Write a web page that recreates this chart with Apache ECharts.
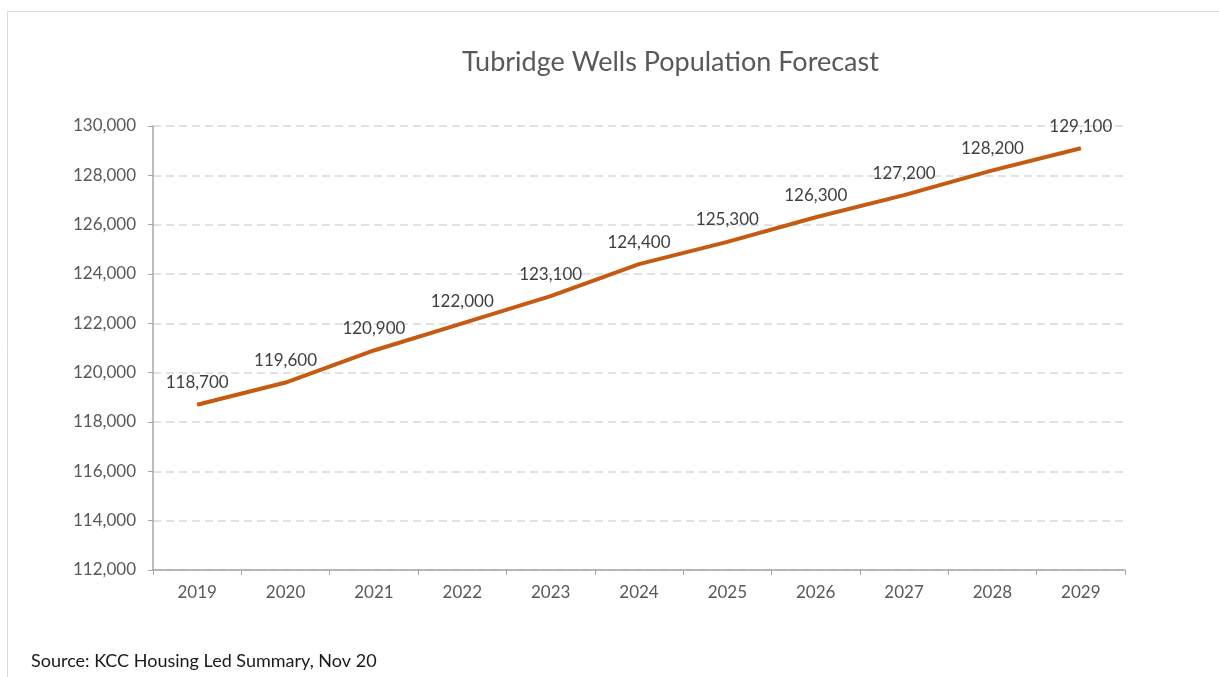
<!DOCTYPE html>
<html><head><meta charset="utf-8">
<script src="https://cdn.jsdelivr.net/npm/echarts@6/dist/echarts.min.js"></script>
<style>html,body{margin:0;padding:0;background:#fff}#c{width:1219px;height:677px}</style>
</head><body><div id="c"></div>
<script>
const years = ['2019','2020','2021','2022','2023','2024','2025','2026','2027','2028','2029'];
const population = [118700,119600,120900,122000,123100,124400,125300,126300,127200,128200,129100];
const titleText = 'Tubridge Wells Population Forecast';
const sourceText = 'Source: KCC Housing Led Summary, Nov 20';
const yMin = 112000, yMax = 130000, yStep = 2000;

const FF = 'Lato, "Open Sans", sans-serif';
const chart = echarts.init(document.getElementById('c'));
const fmt = v => v.toLocaleString('en-US');
chart.setOption({
  animation: false,
  backgroundColor: '#fff',
  textStyle: { fontFamily: FF },
  title: {
    text: titleText, left: 457, top: 44,
    textStyle: { fontSize: 27, fontWeight: 'normal', color: '#595959', fontFamily: FF }
  },
  graphic: [
    { type: 'rect', shape: { x: 7.5, y: 11.5, width: 1400, height: 900 },
      style: { fill: 'none', stroke: '#d9d9d9', lineWidth: 1 }, z: -1 },
    { type: 'text', left: 31, top: 652,
      style: { text: sourceText, fontSize: 18, fill: '#1a1a1a', fontFamily: FF } }
  ],
  grid: { left: 153, right: 94, top: 126, bottom: 107, containLabel: false },
  xAxis: {
    type: 'category', data: years, boundaryGap: true,
    axisLine: { lineStyle: { color: '#a6a6a6', width: 1.5 } },
    axisTick: { show: true, length: 5, alignWithLabel: false, lineStyle: { color: '#a6a6a6' } },
    axisLabel: { color: '#595959', fontSize: 17, margin: 14 }
  },
  yAxis: {
    type: 'value', min: yMin, max: yMax, interval: yStep,
    axisLine: { show: true, lineStyle: { color: '#a6a6a6', width: 1.5 } },
    axisTick: { show: true, length: 5, lineStyle: { color: '#a6a6a6' } },
    axisLabel: { color: '#595959', fontSize: 17, margin: 17, formatter: fmt },
    splitLine: { show: true, lineStyle: { color: '#d9d9d9', type: [8, 5], width: 1.5 } }
  },
  series: [{
    type: 'line', data: population, showSymbol: true, symbol: 'circle', symbolSize: 1,
    itemStyle: { color: '#C55A11' },
    lineStyle: { color: '#C55A11', width: 4 },
    label: {
      show: true, position: 'top', distance: 13, color: '#404040', fontSize: 17,
      formatter: p => fmt(p.value)
    }
  }]
});
</script></body></html>
